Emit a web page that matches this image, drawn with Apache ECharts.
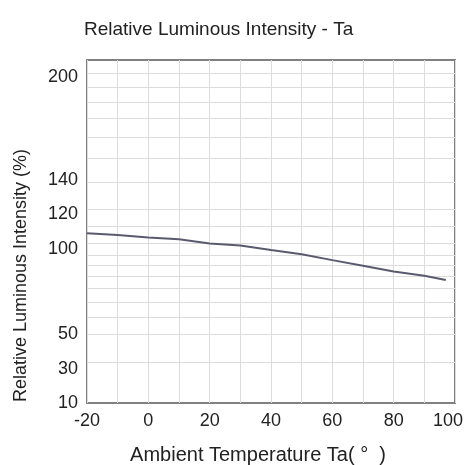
<!DOCTYPE html>
<html>
<head>
<meta charset="utf-8">
<script src="https://cdn.jsdelivr.net/npm/echarts@6/dist/echarts.min.js"></script>
<style>
	html, body { margin: 0; padding: 0; background: #fff; }
	#chart { width: 464px; height: 465px; }
</style>
</head>
<body>
<div id="chart"></div>
<script>
// data
const temps = [-20, -10, 0, 10, 20, 30, 40, 50, 60, 70, 80, 90, 97];
const intensity = [109, 108, 106.5, 105.5, 103, 101.8, 99.2, 96.7, 93.3, 90, 86.7, 84.2, 81.7];

// tick labels
const xTicks = [-20, 0, 20, 40, 60, 80, 100];
const yTicks = [10, 30, 50, 100, 120, 140, 200];
// horizontal grid lines (uneven in the picture)
const yGrid = [34, 50, 60, 69, 77, 84, 90.5, 96, 103, 113, 123, 139, 153, 165, 176, 185.5, 194, 202];

const chart = echarts.init(document.getElementById('chart'));
const font = 'Liberation Sans, Arial, sans-serif';

const option = {
	animation: false,
	backgroundColor: '#fff',
	title: {
		text: 'Relative Luminous Intensity - Ta',
		left: 79,
		top: 15,
		textStyle: { fontFamily: font, fontSize: 19, fontWeight: 'normal', color: '#222' }
	},
	grid: {
		left: 87, right: 9, top: 60, bottom: 62,
		outerBoundsMode: 'none',
		show: true,
		borderColor: '#808080',
		borderWidth: 2
	},
	xAxis: {
		type: 'value',
		min: -20,
		max: 100,
		interval: 10,
		name: 'Ambient Temperature Ta( °  )',
		nameLocation: 'middle',
		nameGap: 42,
		nameTextStyle: { fontFamily: font, fontSize: 20, color: '#222', padding: [0, 26, 0, 0] },
		axisLine: { show: false },
		axisTick: { show: false },
		axisLabel: {
			customValues: xTicks,
			fontFamily: font, fontSize: 18, color: '#222', margin: 9,
			// last label sits a little inside the frame, as in the picture
			formatter: function (v) {
				return v === xTicks[xTicks.length - 1] ? '{last|' + v + '}' : '' + v;
			},
			rich: {
				last: { fontFamily: font, fontSize: 18, color: '#222', padding: [0, 14, 0, 0] }
			}
		},
		splitLine: { show: true, lineStyle: { color: '#dcdcdc', width: 1 } }
	},
	yAxis: {
		type: 'value',
		min: 10,
		max: 210,
		name: 'Relative Luminous Intensity (%)',
		nameLocation: 'middle',
		nameGap: 57,
		nameTextStyle: { fontFamily: font, fontSize: 18, color: '#222', padding: [0, 88, 0, 0] },
		axisLine: { show: false },
		axisTick: { show: false, customValues: yGrid },
		axisLabel: {
			customValues: yTicks,
			fontFamily: font, fontSize: 18, color: '#222', margin: 9
		},
		splitLine: { show: true, lineStyle: { color: '#dcdcdc', width: 1 } }
	},
	series: [
		{
			type: 'line',
			data: temps.map((t, i) => [t, intensity[i]]),
			showSymbol: false,
			lineStyle: { color: '#5a5a6e', width: 2 }
		}
	]
};

chart.setOption(option);
</script>
</body>
</html>
